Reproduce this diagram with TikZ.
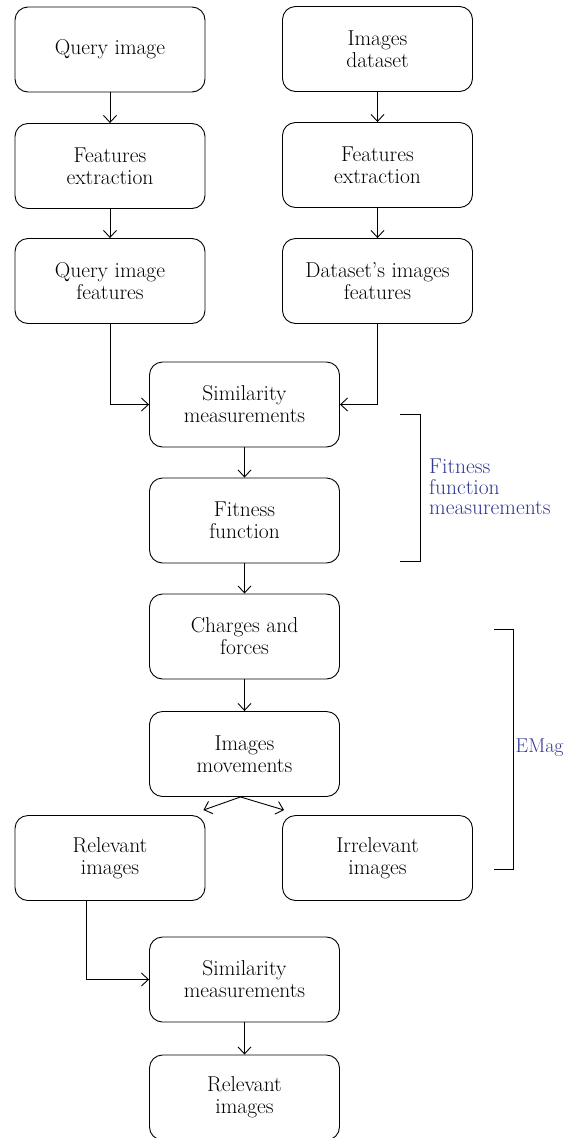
\documentclass[tikz,border=0pt]{standalone}
\usetikzlibrary{arrows.meta}
\definecolor{labelblue}{RGB}{50,56,145}
\tikzset{
  box/.style={draw, line width=0.9pt, rounded corners=13pt, minimum width=190pt,
    minimum height=85pt, align=center, inner sep=0pt,
    font=\fontsize{21.5}{22}\selectfont},
  arr/.style={line width=0.9pt, -{Straight Barb[length=7pt,width=13pt,line width=0.9pt]}},
  brace/.style={line width=1pt},
  side/.style={text=labelblue, align=left, anchor=west, inner sep=0pt,
    font=\fontsize{21.5}{20.5}\selectfont}
}
\begin{document}
\begin{tikzpicture}[x=1pt,y=-1pt]
	\useasboundingbox (0,0) rectangle (567,1138);
	% left column
	\node[box] (qimg) at (110,49.5) {Query image};
	\node[box] (fel) at (110,166) {Features\\extraction};
	\node[box] (qif) at (110,281) {Query image\\features};
	% right column
	\node[box] (dset) at (377.5,49) {Images\\dataset};
	\node[box] (fer) at (377.5,165) {Features\\extraction};
	\node[box] (dif) at (377.5,281) {Dataset's images\\features};
	% middle column
	\node[box] (sim) at (244.5,404.5) {Similarity\\measurements};
	\node[box] (fit) at (244.5,520.5) {Fitness\\function};
	\node[box] (chg) at (244.5,636.5) {Charges and\\forces};
	\node[box] (mov) at (244.5,754) {Images\\movements};
	\node[box] (rel) at (110,858) {Relevant\\images};
	\node[box] (irr) at (377.5,858) {Irrelevant\\images};
	\node[box] (simb) at (244.5,979.5) {Similarity\\measurements};
	\node[box] (relb) at (244.5,1097.5) {Relevant\\images};
	\draw[arr] (qimg) -- (fel);
	\draw[arr] (fel) -- (qif);
	\draw[arr] (dset) -- (fer);
	\draw[arr] (fer) -- (dif);
	\draw[arr] (qif.south) |- (sim.west);
	\draw[arr] (dif.south) |- (sim.east);
	\draw[arr] (sim) -- (fit);
	\draw[arr] (fit) -- (chg);
	\draw[arr] (chg) -- (mov);
	\draw[arr] ([xshift=-4pt]mov.south) -- ([xshift=-2pt,yshift=5pt]rel.north east);
	\draw[arr] ([xshift=-4pt]mov.south) -- ([xshift=2pt,yshift=5pt]irr.north west);
	\draw[arr] ([xshift=-24pt]rel.south) |- (simb.west);
	\draw[arr] (simb) -- (relb);
	% brackets
	\draw[brace] (400,414) -- (420,414) -- (420,561) -- (400,561);
	\node[side] (fitlab) at (429,487) {Fitness\\function\\measurements};
	\draw[brace] (494,629) -- (513,629) -- (513,869) -- (494,869);
	\node[side, font=\fontsize{20}{20.5}\selectfont] (emlab) at (515.5,748) {EMag};
\end{tikzpicture}
\end{document}
